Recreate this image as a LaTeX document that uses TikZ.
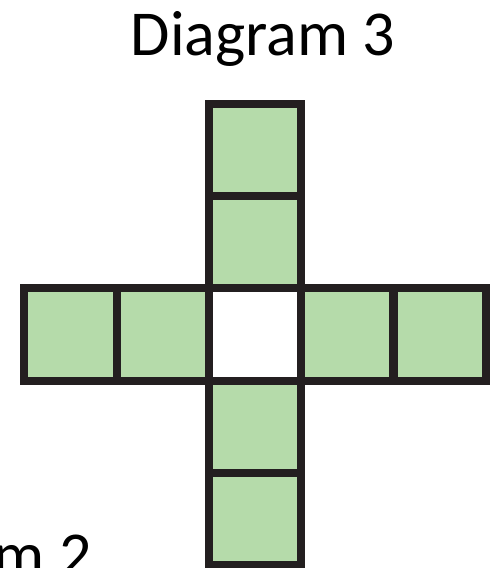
\documentclass[tikz,border=0pt]{standalone}
\usepackage{fontspec}
\setmainfont{Carlito}
\usepackage{xcolor}
\usetikzlibrary{positioning}
\definecolor{cellline}{HTML}{231F20}
\definecolor{cellgreen}{HTML}{B5DBAA}

\begin{document}
\begin{tikzpicture}[
    x=1pt, y=-1pt,
    cell/.style={rectangle, draw=cellline, fill=cellgreen, line width=8pt,
                 minimum size=92.2pt, inner sep=0pt},
    hole/.style={cell, fill=white},
    heading/.style={font=\fontsize{64}{76}\selectfont, inner sep=0pt, anchor=base}
]
    \useasboundingbox (0,0) rectangle (497,568);

    % Titre
    \node[heading] (title) at (263,55) {Diagram 3};
    % Titre du schéma précédent (coupé en bas)
    \node[heading, anchor=base east] (prev) at (92,576) {Diagram 2};

    % Colonne verticale
    \node[cell] (c1) at (255,150) {};
    \node[cell] (c2) at (255,242.2) {};
    \node[cell] (c4) at (255,426.6) {};
    \node[cell] (c5) at (255,518.8) {};

    % Ligne horizontale
    \node[cell] (r1) at (70.4,334.4) {};
    \node[cell] (r2) at (162.7,334.4) {};
    \node[cell] (r4) at (347.3,334.4) {};
    \node[cell] (r5) at (439.6,334.4) {};

    % Case centrale (vide)
    \node[hole] (mid) at (255,334.4) {};
\end{tikzpicture}
\end{document}
